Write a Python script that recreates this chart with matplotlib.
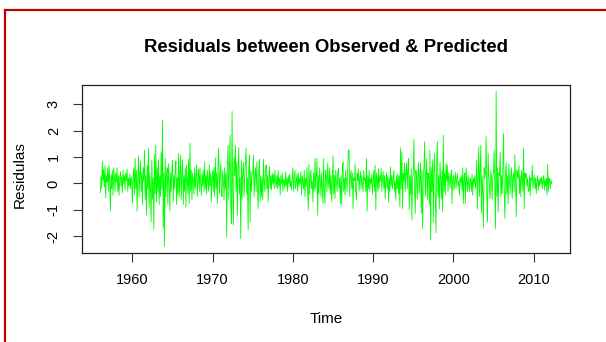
import numpy as np
import matplotlib.pyplot as plt
from matplotlib.lines import Line2D

plt.rcParams['font.family'] = ['Liberation Sans', 'DejaVu Sans']
plt.rcParams['axes.unicode_minus'] = False

#月次残差 1956年1月〜2012年4月
start_year = 1956
res_by_year = {
    1956: [-0.35, 0.25, -0.2, 0.85, 0.1, 0.55, -0.15, 0.7, -0.55, 0.3, 0.05, 0.6],
    1957: [-0.3, 0.7, 0.1, -1.05, 0.35, -0.2, 0.5, -0.45, 0.6, 0.2, -0.3, 0.4],
    1958: [0.05, 0.6, -0.3, 0.3, -0.45, 0.15, 0.45, -0.1, 0.25, -0.35, 0.5, 0.0],
    1959: [0.3, -0.25, 0.4, 0.1, 0.55, -0.3, 0.2, -0.1, 0.35, -0.2, 0.25, 0.05],
    1960: [-0.75, 0.3, 0.6, -0.4, 0.95, -0.2, 0.5, -1.05, 0.2, 1.05, -0.5, 0.3],
    1961: [0.85, -0.3, 0.4, -0.8, 0.6, 0.1, 1.27, -0.6, 0.3, -1.2, 0.7, -0.2],
    1962: [1.33, -0.9, 0.4, -0.3, -1.45, 0.9, -0.6, 0.2, -1.75, 1.1, -0.4, 1.45],
    1963: [-0.7, 0.6, -0.3, 0.9, -0.8, 0.3, -0.5, 1.2, -0.2, 2.4, -1.7, 0.4],
    1964: [-2.39, 0.95, -0.5, 0.3, 0.6, -0.8, 0.75, 0.1, -1.05, 0.4, -0.3, 0.5],
    1965: [0.88, -0.7, 0.3, -0.2, 0.5, 0.85, -0.8, 0.2, -0.4, 1.14, -0.5, 0.3],
    1966: [1.07, -0.6, 0.4, 0.9, -0.8, 0.3, -0.3, 0.6, -0.9, 0.7, 0.1, -0.4],
    1967: [0.92, -0.76, 1.52, -0.3, 0.5, -0.63, 0.4, 0.1, -0.4, 0.6, -0.2, 0.3],
    1968: [0.7, -0.5, 0.2, 0.55, -0.3, 0.6, 0.0, -0.45, 0.35, -0.1, 0.5, -0.3],
    1969: [0.82, -0.2, 0.3, -0.4, 0.5, 0.1, -0.3, 0.7, -0.1, 0.4, -0.7, 0.2],
    1970: [0.5, -0.3, 0.6, -0.5, 0.97, -0.2, 0.4, -0.76, 0.8, 1.33, -0.4, 0.3],
    1971: [0.76, -0.3, -0.5, 0.5, 0.2, -0.63, 0.6, -0.2, 0.4, -2.03, 0.8, 1.45],
    1972: [-0.6, 0.5, 1.83, -0.8, -1.52, 2.74, -0.5, -1.58, 1.0, 0.3, 1.45, -0.3],
    1973: [0.8, -1.2, 0.5, 1.37, -0.4, 0.2, -2.09, 0.9, -0.6, 0.4, 0.8, -0.5],
    1974: [0.3, 0.8, 1.33, -0.4, 0.2, -1.77, 0.6, 1.08, -1.46, 0.5, -0.3, 0.4],
    1975: [0.4, 1.07, -0.5, 0.3, 0.6, -0.3, 0.82, -0.2, -0.95, 0.4, 0.92, -0.7],
    1976: [0.3, -0.5, 0.2, -0.63, 0.92, 0.1, -0.3, 0.5, 0.7, -0.2, 0.3, -0.7],
    1977: [0.2, 0.63, -0.2, 0.3, -0.25, 0.4, 0.0, 0.35, -0.2, 0.5, 0.1, -0.15],
    1978: [0.3, -0.2, 0.5, -0.1, 0.2, -0.44, 0.3, 0.0, 0.4, -0.3, 0.15, 0.1],
    1979: [-0.2, 0.44, -0.1, 0.2, -0.3, 0.3, 0.0, 0.35, -0.15, 0.1, -0.25, 0.25],
    1980: [0.6, -0.3, 0.2, 0.5, -0.2, 0.1, 0.35, -0.3, 0.4, -0.1, 0.2, 0.0],
    1981: [0.45, -0.44, 0.3, 0.1, -0.2, 0.5, -0.5, 0.2, -0.1, 0.6, -0.3, -1.01],
    1982: [0.73, -0.4, 0.3, 0.5, -0.2, 0.1, -0.7, 0.4, -0.3, 0.95, -0.2, 0.3],
    1983: [0.95, -1.2, 0.3, -0.4, 0.6, 0.1, -0.5, 0.4, -0.2, -0.76, 0.95, -0.3],
    1984: [-0.76, 0.5, 0.2, -0.3, 0.76, 0.1, -0.2, 0.6, -0.4, 0.3, -0.7, 0.2],
    1985: [1.04, -0.4, 0.3, -0.57, 0.5, 0.1, -0.3, 0.4, 0.57, -0.2, 0.2, -0.76],
    1986: [0.3, -0.82, 0.6, 0.8, -0.3, 0.2, -0.44, 0.5, 0.1, -0.3, 0.6, 1.27],
    1987: [1.27, -0.5, 0.3, 0.5, -0.2, 0.4, -0.95, 0.2, 0.1, 0.76, -0.3, -0.63],
    1988: [0.4, 0.1, 0.55, -0.3, 0.2, 0.45, -0.2, 0.3, 0.0, -0.3, 0.5, 0.1],
    1989: [0.2, -0.3, 0.95, -1.05, 0.3, -0.2, 0.5, -0.3, 0.2, 0.0, 0.35, -0.4],
    1990: [0.1, 0.5, -0.3, 0.7, -1.0, 0.4, 0.2, -0.3, 0.55, -0.2, 0.3, 0.1],
    1991: [0.57, -0.3, 0.2, 0.45, -0.2, 0.3, -0.57, 0.1, 0.4, -0.2, 0.3, -0.7],
    1992: [0.2, -0.3, 0.63, -0.1, 0.3, -0.2, 0.2, 0.5, -0.3, 0.1, -0.63, 0.3],
    1993: [-0.2, 0.4, -0.4, 0.3, -0.89, 1.35, -0.2, 1.2, -0.95, 0.4, 0.1, 0.78],
    1994: [-0.3, 0.4, 0.78, -0.2, 0.5, 0.95, -1.01, 0.3, -0.44, 0.6, -1.39, 0.2],
    1995: [0.4, 1.68, -0.3, -1.14, 0.5, 0.2, -0.6, 0.3, 0.8, -0.4, 0.2, 0.78],
    1996: [-1.14, 0.5, -1.71, 0.3, 0.6, 1.58, -0.5, 0.2, 0.95, -0.6, 0.4, 0.3],
    1997: [-0.8, 1.26, -2.15, 0.6, -0.3, 0.9, -1.46, 0.5, 1.14, -0.6, -1.87, 0.9],
    1998: [1.6, -0.5, 0.3, -0.97, 0.8, 0.2, -0.6, 0.5, -1.08, 1.83, -0.3, 0.4],
    1999: [-0.44, 0.78, 0.1, 0.7, -0.3, 0.4, 0.2, -0.2, 0.3, 0.5, -0.76, 0.2],
    2000: [0.3, -0.25, 0.1, 0.42, -0.2, 0.2, 0.38, -0.1, 0.1, -0.44, 0.2, 0.05],
    2001: [0.3, -0.3, 0.6, -0.76, 0.2, 0.4, -0.76, 0.6, 0.1, -0.3, 0.3, 0.0],
    2002: [-0.3, 0.2, 0.1, -0.3, 0.35, -0.46, 0.2, 0.0, 0.3, -0.2, 0.1, 0.88],
    2003: [-0.97, 0.3, 1.39, -0.5, 0.4, 1.45, -1.14, 0.3, -0.3, -1.7, 0.6, 0.2],
    2004: [0.4, 1.77, -0.4, -1.46, 1.14, 0.3, -0.2, -0.57, 0.5, 0.2, -0.6, 0.3],
    2005: [0.4, 1.27, -0.3, -1.71, 3.5, -0.5, 0.6, -1.08, 0.4, 0.3, 1.2, -0.5],
    2006: [0.3, -0.4, 0.5, 1.9, -0.3, -1.33, 0.4, 0.78, -0.4, 0.3, -0.76, 0.74],
    2007: [0.2, -0.4, 0.3, 0.6, -0.57, 0.2, 0.4, -0.3, 1.08, 0.2, -1.27, 0.5],
    2008: [0.3, 0.2, 0.7, -0.4, 0.3, -0.5, 0.5, 0.2, -0.3, 1.35, -0.97, 0.4],
    2009: [0.2, 0.38, -0.1, 0.2, -0.3, -0.29, 0.3, -0.46, 0.2, 0.1, 0.7, -0.2],
    2010: [0.1, 0.32, -0.2, 0.2, -0.38, 0.1, 0.3, -0.25, 0.15, -0.1, 0.2, 0.0],
    2011: [0.25, -0.2, 0.1, 0.3, -0.25, 0.15, -0.1, 0.2, -0.44, 0.72, -0.3, 0.2],
    2012: [0.1, -0.2, 0.15, 0.0],
}
x_ticks = [1960, 1970, 1980, 1990, 2000, 2010]
y_ticks = [-2, -1, 0, 1, 2, 3]

residuals = np.concatenate([res_by_year[y] for y in sorted(res_by_year)])
t = start_year + np.arange(len(residuals)) / 12.0

fig = plt.figure(figsize=(6.06, 3.42), dpi=100)
ax = fig.add_axes([0.1358, 0.2611, 0.8043, 0.4904])
ax.plot(t, residuals, color='#00ff00', lw=0.6)

#Rっぽい4%の余白
xr = t[-1] - t[0]
yr = residuals.max() - residuals.min()
ax.set_xlim(t[0] - 0.04 * xr, t[-1] + 0.04 * xr)
ax.set_ylim(residuals.min() - 0.04 * yr, residuals.max() + 0.04 * yr)

ax.set_xticks(x_ticks)
ax.set_yticks(y_ticks)
ax.tick_params(length=6.5, width=0.8, color='#333333', labelsize=10.5)
ax.tick_params(axis='x', pad=8)
ax.tick_params(axis='y', pad=9)
plt.setp(ax.get_yticklabels(), rotation=90, va='center')
for s in ax.spines.values():
    s.set_linewidth(0.9)
    s.set_color('#222222')

fig.text(0.538, 0.862, 'Residuals between Observed & Predicted',
         ha='center', va='center', fontsize=13.3, fontweight='bold')
fig.text(0.538, 0.068, 'Time', ha='center', va='center', fontsize=11)
fig.text(0.032, 0.49, 'Residulas', ha='center', va='center', fontsize=11, rotation=90)

#スクリーンショットの赤枠
fig.add_artist(Line2D([0.008, 0.008], [0.0, 0.97], transform=fig.transFigure, color='#c00000', lw=1.6))
fig.add_artist(Line2D([0.008, 1.0], [0.97, 0.97], transform=fig.transFigure, color='#c00000', lw=1.6))

fig.savefig('out.png', dpi=100)
